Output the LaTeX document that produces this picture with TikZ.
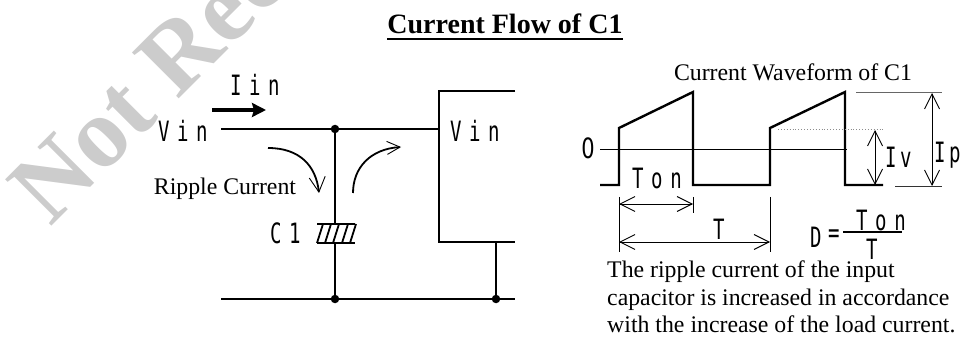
\documentclass[tikz,border=0pt]{standalone}
\usepackage{fontspec}
\usetikzlibrary{arrows.meta}
\setmainfont{Liberation Serif}
\newfontfamily\cadfont[FakeStretch=0.68,LetterSpace=27]{DejaVu Sans Mono}
\newfontfamily\cadtight[FakeStretch=0.68,LetterSpace=12]{DejaVu Sans Mono}
\newfontfamily\cadzero[FakeStretch=0.75]{DejaVu Sans}
\tikzset{>=stealth}
\tikzset{
  wire/.style={line width=2.4pt},
  dimline/.style={line width=0.9pt},
  barb/.style={-{Straight Barb[length=15pt,width=16pt,line width=0.9pt]}},
  dimarrow/.style={dimline, {Straight Barb[length=15pt,width=15pt]}-{Straight Barb[length=15pt,width=15pt]}},
  cad/.style={font=\cadfont\fontsize{28}{30}\selectfont, inner sep=0pt},
  cadI/.style={font=\cadtight\fontsize{28}{30}\selectfont, inner sep=0pt, anchor=west},
  txt/.style={font=\fontsize{23.8}{27.5}\selectfont, inner sep=0pt},
  dot/.style={circle, fill, inner sep=0pt, minimum size=8.5pt}
}

\begin{document}
\begin{tikzpicture}[x=1pt, y=-1pt]
\useasboundingbox (0,0) rectangle (963,347);
\begin{scope}
\clip (0,0) rectangle (963,347);
\node (mark) [rotate=45, text=black!20, font=\bfseries\fontsize{100}{100}\selectfont, anchor=base west, inner sep=0pt] at (50,228) {Not Recommended};
\end{scope}

\node (title) [font=\bfseries\fontsize{28}{30}\selectfont, inner sep=0pt] at (505,24) {Current Flow of C1};
\draw[line width=1.8pt] ([yshift=-5pt]title.base west) -- ([yshift=-5pt]title.base east);

\coordinate (inL) at (221,129);
\coordinate (top) at (335,129);
\coordinate (boxIn) at (439,129);
\coordinate (boxTL) at (515,91);
\coordinate (boxBL) at (515,242);
\coordinate (gnd) at (496,242);
\coordinate (botL) at (221,299);
\coordinate (bot) at (335,299);
\coordinate (botR) at (515,299);
\coordinate (gndB) at (496,299);
\coordinate (capT) at (335,224);
\coordinate (capB) at (335,243);

\draw[wire] (inL) -- (boxIn);
\draw[wire] (boxTL) -- (439,91) -- (439,242) -- (boxBL);
\draw[wire] (gnd) -- (gndB);
\draw[wire] (botL) -- (botR);
\draw[wire] (top) -- (capT);
\draw[wire] (capB) -- (bot);
\draw[line width=2pt] (317,224) -- (355,224);
\draw[line width=2pt] (317,243) -- (355,243);
\foreach \x in {317,325,333,342,350}
\draw[line width=1.8pt] (\x,243) -- (\x+6,224);
\node (jTop) [dot] at (top) {};
\node (jBot) [dot] at (bot) {};
\node (jGnd) [dot] at (gndB) {};

\node (vinL) [cad, anchor=west] at (158,131) {Vin};
\node (vinR) [cad, anchor=west] at (450,131) {Vin};
\node (c1) [cad, anchor=west] at (270,233) {C1};
\node (iin) [cad, anchor=west] at (230,85) {Iin};
\coordinate (iinA) at (212,110);
\coordinate (iinB) at (266,110);
\draw[line width=3.5pt, -{Stealth[length=14pt,width=14pt,inset=2pt]}] (iinA) -- (iinB);

\node (ripple) [txt] at (225,189) {Ripple Current};
\coordinate (rpA) at (268,148);
\coordinate (rpB) at (319,193);
\coordinate (rtA) at (353,193);
\coordinate (rtB) at (401,147);
\draw[line width=1.8pt, barb] (rpA) .. controls (300,148) and (316,166) .. (rpB);
\draw[line width=1.8pt, -{Straight Barb[length=13pt,width=13pt,line width=0.9pt]}] (rtA) .. controls (353,168) and (370,149) .. (rtB);

\node (wtitle) [txt] at (793,72) {Current Waveform of C1};
\node (zero) [font=\cadzero\fontsize{28}{30}\selectfont, inner sep=0pt, anchor=east] at (595,148) {0};
\coordinate (zA) at (600,149);
\coordinate (zB) at (847,149);
\draw[dimline] (zA) -- (zB);
\draw[wire, line join=miter] (600,185) -- (619,185) -- (619,128) -- (693,92) -- (693,185)
  -- (770,185) -- (770,128) -- (845,92) -- (845,185) -- (883,185);

\draw[dimline, black!45, dotted] (778,129) -- (883,129);
\draw[dimline, black!60] (856,92) -- (942,92);
\draw[dimline, black!80] (895,186) -- (942,186);
\draw[dimarrow] (875,130) -- (875,185);
\draw[dimarrow] (932,93) -- (932,186);
\node (iv) [cadI] at (885,157) {Iv};
\node (ip) [cadI] at (934,155) {Ip};

\node (ton) [cad, anchor=west] at (632,178) {Ton};
\draw[dimline] (619,197) -- (619,252);
\draw[dimline] (693,197) -- (693,213);
\draw[dimline] (770,197) -- (770,252);
\draw[dimarrow] (619,204) -- (693,204);
\draw[dimarrow] (619,242) -- (770,242);
\node (tper) [cad, anchor=west] at (713,229) {T};

\node (dlab) [cad, anchor=west] at (810,237) {D};
\node (deq) [cad, anchor=west] at (828,236) {=};
\node (dnum) [cad, anchor=west] at (856,220) {Ton};
\node (dden) [cad, anchor=west] at (866,249) {T};
\draw[line width=1.6pt] (843,232) -- (902,232);

\node (note) [txt, anchor=north west, align=left] at (607,261) {The ripple current of the input\\capacitor is increased in accordance\\with the increase of the load current.};
\end{tikzpicture}
\end{document}
